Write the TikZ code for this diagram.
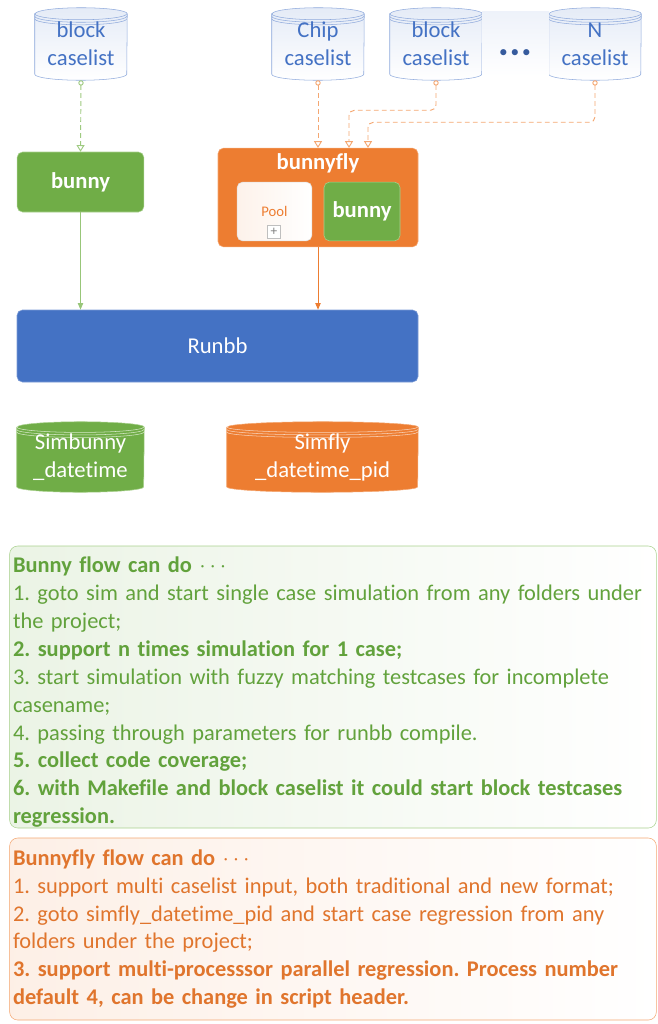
\documentclass[tikz,border=0pt]{standalone}
\usepackage{fontspec}
\setmainfont{Carlito}[Ligatures=CommonOff]
\usetikzlibrary{arrows.meta,backgrounds}
\definecolor{cblue}{HTML}{4472C4}
\definecolor{cgreen}{HTML}{70AD47}
\definecolor{corange}{HTML}{ED7D31}
\definecolor{lgreen}{HTML}{A9D18E}
\definecolor{lorange}{HTML}{F4A772}
\definecolor{tgreen}{HTML}{62A23C}
\definecolor{torange}{HTML}{E0752D}
\frenchspacing

% cylinder behind a node: name, x radius, cap radius, body style, ring colour
\newcommand\drum[5]{%
  \begin{pgfonlayer}{background}
  \path[#4] ([yshift=-#3]#1.north west) -- ([yshift=#3]#1.south west)
    arc[start angle=180,end angle=360,x radius=#2,y radius=#3]
    -- ([yshift=-#3]#1.north east)
    arc[start angle=0,end angle=180,x radius=#2,y radius=#3] -- cycle;
  \foreach \d in {0pt,1.9pt,3.8pt}
    \draw[#5] ([yshift=-#3-\d]#1.north west) arc[start angle=180,end angle=360,x radius=#2,y radius=#3];
  \end{pgfonlayer}}

\begin{document}
\begin{tikzpicture}
  [x=0.75pt,y=-0.75pt,
   every node/.style={font=\fontsize{17}{21}\selectfont,inner sep=0pt},
   caselist/.style={text=cblue,align=center,minimum width=69pt,minimum height=54pt},
   store/.style={text=white,align=center,minimum height=52.5pt},
   box/.style={rounded corners=4pt,text=white,font=\fontsize{17}{21}\selectfont\bfseries},
   note/.style={rounded corners=6pt,align=left,text width=480pt,inner xsep=2.5pt,
     font=\fontsize{16.8}{20.95}\selectfont},
   feed/.style={dash pattern=on 3.5pt off 2.5pt,line width=.7pt,
     {Circle[open,length=4pt]}-{Triangle[open,width=6pt,length=5pt]}},
   pass/.style={line width=.7pt,-{Triangle[width=4pt,length=5pt]}}]
  \useasboundingbox (0,0) rectangle (657,1024);

  % caselists
  \fill[top color=cblue!9,bottom color=white] (482,12) rectangle (549,76);
  \node[caselist] (blk) at (81,44) {block\\caselist};
  \node[caselist] (chip) at (318,44) {Chip\\caselist};
  \node[caselist] (blk2) at (436,44) {block\\caselist};
  \node[caselist] (ncl) at (595,44) {N\\caselist};
  \foreach \n in {blk,chip,blk2,ncl}
    \drum{\n}{34.5pt}{4.5pt}{draw=cblue!60,top color=cblue!14,bottom color=white}{cblue!60};
  \node[text=cblue!80!black,font=\fontsize{13}{13}\selectfont] (dots) at (515,54) {•\,•\,•};

  % flows
  \node[box,fill=cgreen,draw=lgreen,minimum width=95pt,minimum height=45pt] (bunny) at (80.5,182) {bunny};
  \node[box,fill=corange,draw=lorange,minimum width=150pt,minimum height=74pt] (fly) at (318,197.5) {};
  \node[box] (flyname) at (318,163) {bunnyfly};
  \node[box,draw=gray!25,left color=corange!10,right color=white,text=corange,
    font=\fontsize{11}{13}\selectfont,minimum width=56pt,minimum height=44pt] (pool) at (274.5,211.5) {Pool};
  \node[draw=gray!50,fill=white,text=gray,font=\fontsize{10}{10}\selectfont,
    minimum size=10pt] (plus) at (274,232) {+};
  \node[box,fill=cgreen,draw=lgreen,minimum width=57pt,minimum height=44pt] (fbunny) at (362,211.5) {bunny};

  \node[box,fill=cblue,draw=cblue!70,font=\fontsize{17}{21}\selectfont,
    minimum width=300.75pt,minimum height=54pt] (runbb) at (217.5,346) {Runbb};

  \node[store,minimum width=95.25pt] (simb) at (80.5,457) {Simbunny\\\_datetime};
  \node[store,minimum width=143.25pt] (simf) at (322.5,457) {Simfly\\\_datetime\_pid};
  \drum{simb}{47.6pt}{4pt}{fill=cgreen,draw=lgreen}{lgreen!50!white}
  \drum{simf}{71.6pt}{4pt}{fill=corange,draw=lorange}{lorange!50!white}

  % connectors
  \draw[feed,lgreen!80!cgreen] (blk.south) -- (bunny.north);
  \draw[feed,lorange] (chip.south) -- (chip.south |- fly.north);
  \draw[feed,lorange,rounded corners=4pt] (blk2.south) -- ++(0,30) -| ([xshift=23.25pt]fly.north);
  \draw[feed,lorange,rounded corners=4pt] (ncl.south) -- ++(0,42) -| ([xshift=37.5pt]fly.north);
  \draw[pass,lgreen!70!cgreen] (bunny.south) -- (bunny.south |- runbb.north);
  \draw[pass,corange] (fly.south) -- (fly.south |- runbb.north);

  % notes
  \node[note,draw=lgreen,left color=cgreen!14,right color=white,text=tgreen,
    minimum height=211.5pt] (bunnynote) at (333,687) {%
    \rule{0pt}{19.5pt}\textbf{Bunny flow can do $\cdots$}\\
    1. goto sim and start single case simulation from any folders under\\
    the project;\\
    \textbf{2. support n times simulation for 1 case;}\\
    3. start simulation with fuzzy matching testcases for incomplete\\
    casename;\\
    4. passing through parameters for runbb compile.\\
    \textbf{5. collect code coverage;}\\
    \textbf{6. with Makefile and block caselist it could start block testcases}\\
    \textbf{regression.}};
  \node[note,draw=lorange,left color=corange!12,right color=white,text=torange,
    minimum height=136.5pt] (flynote) at (333,929) {%
    \textbf{Bunnyfly flow can do $\cdots$}\\
    1. support multi caselist input, both traditional and new format;\\
    2. goto simfly\_datetime\_pid and start case regression from any\\
    folders under the project;\\
    \textbf{3. support multi-processsor parallel regression. Process number}\\
    \textbf{default 4, can be change in script header.}};
\end{tikzpicture}
\end{document}
